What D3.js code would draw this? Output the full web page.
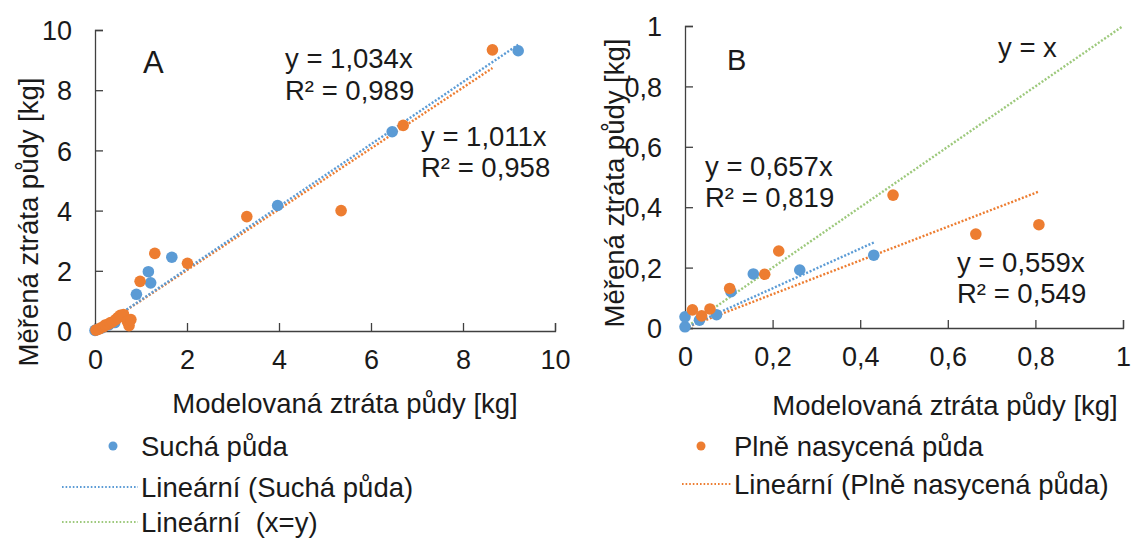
<!DOCTYPE html>
<html>
<head>
<meta charset="utf-8">
<script src="https://cdn.jsdelivr.net/npm/d3@7/dist/d3.min.js"></script>
<style>
  html, body { margin: 0; padding: 0; background: #fff; }
  svg { display: block; font-family: "Liberation Sans", Arial, sans-serif; }
  svg text { white-space: pre; }
  .tick text { font-size: 27px; fill: #1a1a1a; }
</style>
</head>
<body>
<svg id="chart" width="1132" height="539"></svg>
<script>
// Panel A: modelled vs measured soil loss [kg]
const dryA_x = [0.00, 0.05, 0.15, 0.30, 0.43, 0.90, 1.16, 1.21, 1.67, 3.97, 6.46, 9.20];
const dryA_y = [0.02, 0.05, 0.10, 0.20, 0.28, 1.22, 1.97, 1.60, 2.45, 4.17, 6.62, 9.31];
const satA_x = [0.02, 0.08, 0.12, 0.18, 0.22, 0.28, 0.33, 0.38, 0.45, 0.50, 0.55, 0.62, 0.70, 0.74, 0.78, 0.98, 1.30, 2.01, 3.30, 5.35, 6.70, 8.64];
const satA_y = [0.03, 0.06, 0.10, 0.14, 0.20, 0.22, 0.27, 0.30, 0.38, 0.45, 0.52, 0.55, 0.32, 0.18, 0.38, 1.65, 2.58, 2.25, 3.80, 4.00, 6.83, 9.34];

// Panel B
const dryB_x = [0.000, 0.000, 0.033, 0.072, 0.105, 0.156, 0.262, 0.431];
const dryB_y = [0.004, 0.037, 0.026, 0.044, 0.120, 0.179, 0.192, 0.241];
const satB_x = [0.017, 0.038, 0.057, 0.102, 0.182, 0.214, 0.475, 0.664, 0.808];
const satB_y = [0.060, 0.040, 0.063, 0.131, 0.178, 0.255, 0.440, 0.311, 0.342];

// Fitted slopes (zero intercept) and their labels
const slopeDryA = 1.034, slopeSatA = 1.011;
const slopeDryB = 0.657, slopeSatB = 0.559;
const eqDryA = ["y = 1,034x", "R² = 0,989"];
const eqSatA = ["y = 1,011x", "R² = 0,958"];
const eqDryB = ["y = 0,657x", "R² = 0,819"];
const eqSatB = ["y = 0,559x", "R² = 0,549"];
const eqIdentity = "y = x";

const ticksA = [0, 2, 4, 6, 8, 10];
const ticksB = [0, 0.2, 0.4, 0.6, 0.8, 1];
const xTitle = "Modelovaná ztráta půdy [kg]";
const yTitle = "Měřená ztráta půdy [kg]";
const legendLeft = ["Suchá půda", "Lineární (Suchá půda)", "Lineární  (x=y)"];
const legendRight = ["Plně nasycená půda", "Lineární (Plně nasycená půda)"];

const BLUE = "#5b9bd5", ORANGE = "#ed7d31", GREEN = "#9dc97c", INK = "#1a1a1a", AXIS = "#404040";
const FS = 27.5;
const fmt = d => String(d).replace(".", ",");

const svg = d3.select("#chart");

function trend(g, x, y, slope, xmax, color) {
  g.append("line")
    .attr("x1", x(0)).attr("y1", y(0))
    .attr("x2", x(xmax)).attr("y2", y(slope * xmax))
    .attr("stroke", color).attr("stroke-width", 2.4)
    .attr("stroke-dasharray", "2,1.8");
}

function dots(g, x, y, xs, ys, color) {
  g.selectAll(null).data(xs).enter().append("circle")
    .attr("cx", d => x(d)).attr("cy", (d, i) => y(ys[i]))
    .attr("r", 5.8).attr("fill", color);
}

function axes(g, x, y, ticks) {
  const ax = g.append("g").attr("transform", `translate(0,${y(0)})`)
    .call(d3.axisBottom(x).tickValues(ticks).tickFormat(fmt).tickSize(-8).tickPadding(19));
  const ay = g.append("g").attr("transform", `translate(${x(0)},0)`)
    .call(d3.axisLeft(y).tickValues(ticks).tickFormat(fmt).tickSize(-8).tickPadding(23));
  [ax, ay].forEach(a => {
    a.select(".domain").attr("stroke", AXIS).attr("stroke-width", 1.3);
    a.selectAll(".tick line").attr("stroke", AXIS).attr("stroke-width", 1.3);
    a.selectAll(".tick text").attr("font-family", "Liberation Sans, Arial, sans-serif");
  });
  ay.selectAll(".tick text").attr("dy", "0.36em");
}

function label(g, lines, x0, y0, step) {
  lines.forEach((t, i) => g.append("text")
    .attr("x", x0).attr("y", y0 + i * step)
    .attr("font-size", FS).attr("fill", INK).text(t));
}

// ---------- Panel A ----------
const gA = svg.append("g");
const xA = d3.scaleLinear().domain([0, 10]).range([95, 555]);
const yA = d3.scaleLinear().domain([0, 10]).range([331, 30]);
axes(gA, xA, yA, ticksA);
trend(gA, xA, yA, slopeSatA, d3.max(satA_x), ORANGE);
trend(gA, xA, yA, slopeDryA, d3.max(dryA_x), BLUE);
dots(gA, xA, yA, dryA_x, dryA_y, BLUE);
dots(gA, xA, yA, satA_x, satA_y, ORANGE);
gA.append("text").attr("x", 143).attr("y", 73).attr("font-size", 31).attr("fill", INK).text("A");
label(gA, eqDryA, 285, 68, 32);
label(gA, eqSatA, 421, 146, 31);
gA.append("text").attr("x", 345).attr("y", 413).attr("text-anchor", "middle")
  .attr("font-size", FS).attr("fill", INK).text(xTitle);
gA.append("text").attr("transform", "translate(38,222) rotate(-90)").attr("text-anchor", "middle")
  .attr("font-size", FS).attr("fill", INK).text(yTitle);

// ---------- Panel B ----------
const gB = svg.append("g");
const xB = d3.scaleLinear().domain([0, 1]).range([685, 1123]);
const yB = d3.scaleLinear().domain([0, 1]).range([328, 26]);
axes(gB, xB, yB, ticksB);
trend(gB, xB, yB, 1, 1, GREEN);
trend(gB, xB, yB, slopeSatB, d3.max(satB_x), ORANGE);
trend(gB, xB, yB, slopeDryB, d3.max(dryB_x), BLUE);
dots(gB, xB, yB, dryB_x, dryB_y, BLUE);
dots(gB, xB, yB, satB_x, satB_y, ORANGE);
gB.append("text").attr("x", 727).attr("y", 70).attr("font-size", 29).attr("fill", INK).text("B");
label(gB, [eqIdentity], 998, 57, 0);
label(gB, eqDryB, 705, 176, 31);
label(gB, eqSatB, 957, 272, 31);
gB.append("text").attr("x", 945).attr("y", 415).attr("text-anchor", "middle")
  .attr("font-size", FS).attr("fill", INK).text(xTitle);
gB.append("text").attr("transform", "translate(624,183) rotate(-90)").attr("text-anchor", "middle")
  .attr("font-size", FS).attr("fill", INK).text(yTitle);

// ---------- Legends ----------
function legend(items, kinds, colors, x0, dotX, tx, ys) {
  const g = svg.append("g");
  items.forEach((t, i) => {
    const cy = ys[i];
    if (kinds[i] === "dot") {
      g.append("circle").attr("cx", dotX).attr("cy", cy).attr("r", 4.5).attr("fill", colors[i]);
    } else {
      g.append("line").attr("x1", x0).attr("x2", tx - 3).attr("y1", cy).attr("y2", cy)
        .attr("stroke", colors[i]).attr("stroke-width", 1.8).attr("stroke-dasharray", "1.6,2");
    }
    g.append("text").attr("x", tx).attr("y", cy).attr("dy", "0.36em")
      .attr("font-size", FS).attr("fill", INK).text(t);
  });
}
legend(legendLeft, ["dot", "line", "line"], [BLUE, BLUE, GREEN], 62, 113, 141, [446, 487, 522]);
legend(legendRight, ["dot", "line"], [ORANGE, ORANGE], 682, 701, 734, [446, 484]);
</script>
</body>
</html>
